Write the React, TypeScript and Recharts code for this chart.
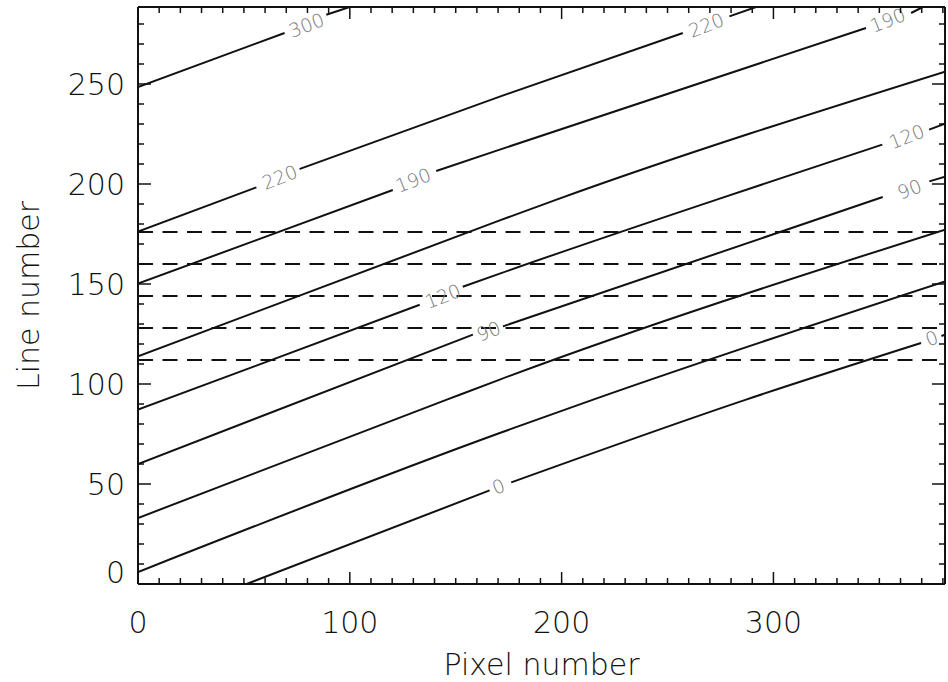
import { Line, LineChart, ReferenceDot, ReferenceLine, XAxis, YAxis } from "recharts";

// axis layout
const X_DOMAIN = [0, 381];
const Y_DOMAIN = [0, 288.5];
const X_TICKS = [0, 10, 20, 30, 40, 50, 60, 70, 80, 90, 100, 110, 120, 130, 140, 150, 160, 170, 180, 190, 200, 210, 220, 230, 240, 250, 260, 270, 280, 290, 300, 310, 320, 330, 340, 350, 360, 370, 380];
const X_MAJOR = [0, 100, 200, 300];
const Y_TICKS = [0, 10, 20, 30, 40, 50, 60, 70, 80, 90, 100, 110, 120, 130, 140, 150, 160, 170, 180, 190, 200, 210, 220, 230, 240, 250, 260, 270, 280];
const Y_MAJOR = [0, 50, 100, 150, 200, 250];

// horizontal dashed lines (line number)
const DASHED_ROWS = [112, 128, 144, 160, 176];

// contour lines, null = gap left for the label
const contour300 = [
  { x: 0, y: 248.5 }, { x: 69.2, y: 275.5 }, { x: 79.5, y: null }, { x: 88.9, y: 284.6 }, { x: 99.9, y: 288.5 },
];
const contour220 = [
  { x: 0, y: 176.2 }, { x: 55.9, y: 198.3 }, { x: 66.9, y: null }, { x: 76.3, y: 207.5 },
  { x: 170.8, y: 243.7 }, { x: 257.2, y: 275.5 }, { x: 268.2, y: null }, { x: 279.2, y: 283.8 }, { x: 291.8, y: 288.5 },
];
const contour190 = [
  { x: 0, y: 150.2 }, { x: 120.3, y: 197 }, { x: 129.9, y: null }, { x: 140.8, y: 206.5 }, { x: 170.8, y: 217.2 },
  { x: 343.7, y: 278 }, { x: 353.9, y: null }, { x: 365, y: 285.5 }, { x: 370.5, y: 288.5 },
];
const contourD = [
  { x: 0, y: 113.8 }, { x: 170.8, y: 181.8 }, { x: 197.6, y: 192.2 }, { x: 381, y: 256.2 },
];
const contour120 = [
  { x: 0, y: 87.2 }, { x: 133, y: 139.6 }, { x: 143.9, y: null }, { x: 153.3, y: 148.6 }, { x: 170.8, y: 155.2 },
  { x: 273.2, y: 192.2 }, { x: 351.4, y: 219.7 }, { x: 362.9, y: null }, { x: 373.5, y: 227.2 }, { x: 381, y: 230.2 },
];
const contour90 = [
  { x: 0, y: 60 }, { x: 158.1, y: 124.7 }, { x: 166, y: null }, { x: 172.3, y: 128.8 }, { x: 351.6, y: 193.5 },
  { x: 364.2, y: null }, { x: 373.6, y: 201.3 }, { x: 381, y: 203.6 },
];
const contourG = [
  { x: 0, y: 33 }, { x: 145.8, y: 92.2 }, { x: 170.8, y: 102.2 }, { x: 381, y: 177.2 },
];
const contourH = [
  { x: 0, y: 6 }, { x: 170.8, y: 75.5 }, { x: 214.9, y: 92.2 }, { x: 381, y: 151.3 },
];
const contour0 = [
  { x: 51.3, y: 0 }, { x: 166, y: 46.8 }, { x: 170.2, y: null }, { x: 176.2, y: 50.8 }, { x: 287.1, y: 92.2 },
  { x: 369.7, y: 120.5 }, { x: 374.7, y: null }, { x: 379.3, y: 124 }, { x: 381, y: 124.6 },
];

const CONTOURS = [contour300, contour220, contour190, contourD, contour120, contour90, contourG, contourH, contour0];

const CONTOUR_LABELS = [
  { x: 79.5, y: 279.5, text: "300" },
  { x: 66.9, y: 203.5, text: "220" },
  { x: 268.2, y: 279.5, text: "220" },
  { x: 129.9, y: 202, text: "190" },
  { x: 353.9, y: 282, text: "190" },
  { x: 143.9, y: 144, text: "120" },
  { x: 362.9, y: 223.8, text: "120" },
  { x: 165.5, y: 126.5, text: "90" },
  { x: 364.2, y: 197.5, text: "90" },
  { x: 170.2, y: 48.8, text: "0" },
  { x: 374.7, y: 123, text: "0" },
];

const FONT = "'DejaVu Sans', sans-serif";
const INK = "#111";

function BottomTick({ x, y, payload }: any) {
  const major = X_MAJOR.includes(payload.value);
  return (
    <g>
      <line x1={x} x2={x} y1={y} y2={y - (major ? 12 : 6)} stroke={INK} strokeWidth={1.5} />
      {major && (
        <text x={x} y={y + 49} textAnchor="middle" fontFamily={FONT} fontWeight={200} fontSize={30} fill={INK}>
          {payload.value}
        </text>
      )}
    </g>
  );
}

function TopTick({ x, y, payload }: any) {
  const major = X_MAJOR.includes(payload.value);
  return <line x1={x} x2={x} y1={y} y2={y + (major ? 12 : 6)} stroke={INK} strokeWidth={1.5} />;
}

function LeftTick({ x, y, payload }: any) {
  const major = Y_MAJOR.includes(payload.value);
  // IDL nudges the zero label up off the corner
  const shift = payload.value === 0 ? -12 : 0;
  return (
    <g>
      <line x1={x} x2={x + (major ? 13 : 6)} y1={y} y2={y} stroke={INK} strokeWidth={1.5} />
      {major && (
        <text x={x - 13} y={y + 11 + shift} textAnchor="end" fontFamily={FONT} fontWeight={200} fontSize={30} fill={INK}>
          {payload.value}
        </text>
      )}
    </g>
  );
}

function RightTick({ x, y, payload }: any) {
  const major = Y_MAJOR.includes(payload.value);
  return <line x1={x} x2={x - (major ? 13 : 6)} y1={y} y2={y} stroke={INK} strokeWidth={1.5} />;
}

function YTitle({ viewBox }: any) {
  const cx = viewBox.x + 28;
  const cy = viewBox.y + viewBox.height / 2;
  return (
    <text
      x={cx}
      y={cy}
      transform={`rotate(-90, ${cx}, ${cy})`}
      textAnchor="middle"
      dominantBaseline="central"
      fontFamily={FONT}
      fontWeight={200}
      fontSize={30}
      fill={INK}
    >
      Line number
    </text>
  );
}

function ContourLabel({ cx, cy, text }: any) {
  return (
    <text
      x={cx}
      y={cy}
      transform={`rotate(-21, ${cx}, ${cy})`}
      textAnchor="middle"
      dominantBaseline="central"
      fontFamily={FONT}
      fontWeight={200}
      fontSize={19}
      fill="#7a7a7a"
    >
      {text}
    </text>
  );
}

export default function App() {
  return (
    <div style={{ position: "absolute", left: 0, top: 0, background: "#fff" }}>
      <LineChart width={948} height={682} margin={{ top: 6, right: 2, bottom: 0, left: 0 }}>
        <XAxis
          dataKey="x"
          type="number"
          domain={X_DOMAIN}
          allowDataOverflow
          ticks={X_TICKS}
          interval={0}
          height={98}
          tickSize={0}
          tickMargin={0}
          tickLine={false}
          tick={<BottomTick />}
          axisLine={{ stroke: INK, strokeWidth: 2 }}
          label={{
            value: "Pixel number",
            position: "insideBottom",
            offset: 7,
            style: { fontFamily: FONT, fontWeight: 200, fontSize: 30, fill: INK },
          }}
        />
        <XAxis
          xAxisId="top"
          dataKey="x"
          orientation="top"
          type="number"
          domain={X_DOMAIN}
          allowDataOverflow
          ticks={X_TICKS}
          interval={0}
          height={1}
          tickSize={0}
          tickMargin={0}
          tickLine={false}
          tick={<TopTick />}
          axisLine={{ stroke: INK, strokeWidth: 2 }}
        />
        <YAxis
          type="number"
          domain={Y_DOMAIN}
          allowDataOverflow
          ticks={Y_TICKS}
          interval={0}
          width={138}
          tickSize={0}
          tickMargin={0}
          tickLine={false}
          tick={<LeftTick />}
          axisLine={{ stroke: INK, strokeWidth: 2 }}
          label={<YTitle />}
        />
        <YAxis
          yAxisId="right"
          orientation="right"
          type="number"
          domain={Y_DOMAIN}
          allowDataOverflow
          ticks={Y_TICKS}
          interval={0}
          width={1}
          tickSize={0}
          tickMargin={0}
          tickLine={false}
          tick={<RightTick />}
          axisLine={{ stroke: INK, strokeWidth: 2 }}
        />
        {DASHED_ROWS.map((row) => (
          <ReferenceLine key={row} y={row} stroke={INK} strokeWidth={2} strokeDasharray="15 9.5" />
        ))}
        {CONTOURS.map((points, i) => (
          <Line
            key={i}
            data={points}
            dataKey="y"
            type="monotone"
            stroke={INK}
            strokeWidth={2}
            dot={false}
            connectNulls={false}
            isAnimationActive={false}
          />
        ))}
        {/* invisible series so the top/right frame axes get a domain and draw */}
        <Line
          xAxisId="top"
          yAxisId="right"
          data={contourD}
          dataKey="y"
          stroke="none"
          dot={false}
          legendType="none"
          isAnimationActive={false}
        />
        {CONTOUR_LABELS.map((label, i) => (
          <ReferenceDot
            key={i}
            x={label.x}
            y={label.y}
            r={0}
            ifOverflow="visible"
            shape={(props: any) => <ContourLabel cx={props.cx} cy={props.cy} text={label.text} />}
          />
        ))}
      </LineChart>
    </div>
  );
}
